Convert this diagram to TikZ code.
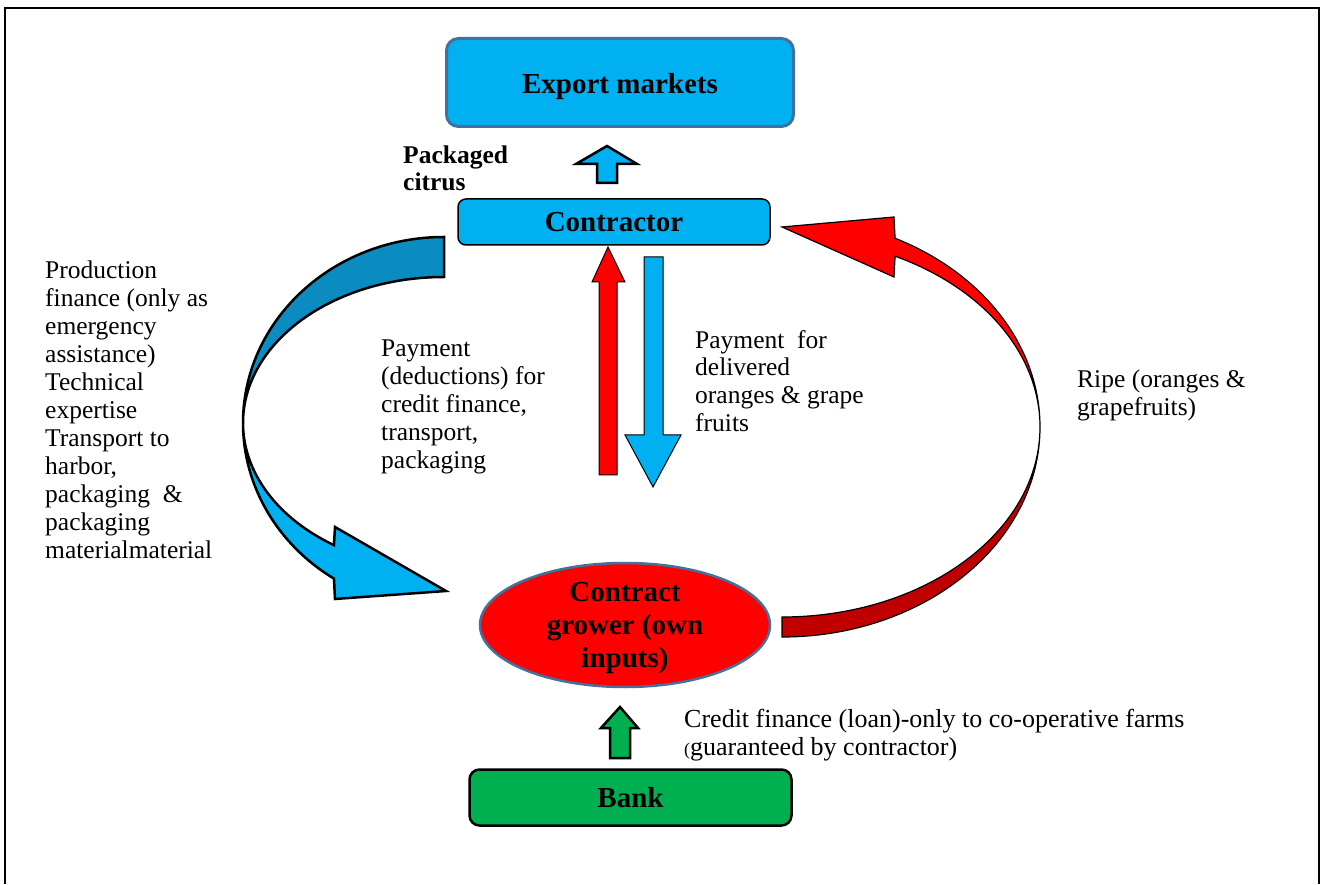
\documentclass[tikz,border=0pt]{standalone}
\usepackage{fontspec}
\setmainfont{Liberation Serif}
\usetikzlibrary{calc,shapes.geometric}
\definecolor{cyanfill}{HTML}{00B0F0}
\definecolor{darkcyan}{HTML}{0A8CC0}
\definecolor{redfill}{HTML}{FF0000}
\definecolor{darkredfill}{HTML}{C00000}
\definecolor{greenfill}{HTML}{00B050}
\definecolor{edgeblue}{HTML}{41719C}
\tikzset{
  boxnode/.style={rounded corners=12pt, inner sep=0pt, font=\fontsize{29}{33}\selectfont\bfseries, align=center},
  txt/.style={anchor=north west, inner sep=0pt, align=left, font=\fontsize{25.5}{28}\selectfont},
  blockarrow/.style={draw=black, line width=2.5pt, line join=miter},
  thinarrow/.style={draw=black, line width=1pt, line join=miter},
}
\begin{document}
\begin{tikzpicture}[x=1pt,y=1pt]
\useasboundingbox (0,0) rectangle (1324,884);
% frame
\draw[line width=2pt] (4.5,0) -- (4.5,876) -- (1319,876) -- (1319,0);

% boxes
\node[boxnode, fill=cyanfill, draw=edgeblue, line width=3pt, minimum width=347pt, minimum height=88pt, text height=28pt, text depth=6pt] (export) at (620,801.5) {Export markets};
\node[boxnode, fill=cyanfill, draw=black, line width=1.5pt, rounded corners=8pt, minimum width=312pt, minimum height=46pt] (contractor) at (614,662) {Contractor};
\node[ellipse, fill=redfill, draw=edgeblue, line width=2.5pt, inner sep=0pt, minimum width=290pt, minimum height=124pt,
  label={[align=center, font=\fontsize{29}{33}\selectfont\bfseries, yshift=-3pt]center:Contract\\grower (own\\inputs)}] (grower) at (625,259) {};
\node[boxnode, fill=greenfill, draw=black, line width=2.5pt, rounded corners=10pt, minimum width=322pt, minimum height=56pt] (bank) at (630.5,86.5) {Bank};

% small up arrow (packaged citrus)
\draw[blockarrow, fill=cyanfill] (597,701) -- (597,720) -- (576,720) -- (607,738) -- (637,720) -- (617,720) -- (617,701) -- cycle;
% red up arrow
\draw[thinarrow, fill=redfill] (599,409) -- (599,602) -- (592,602) -- (608,637) -- (625,602) -- (617,602) -- (617,409) -- cycle;
% blue down arrow
\draw[thinarrow, fill=cyanfill] (644,627) -- (644,449) -- (625,449) -- (653,397) -- (681,449) -- (663,449) -- (663,627) -- cycle;
% green up arrow
\draw[blockarrow, fill=greenfill] (610,126) -- (610,156) -- (601,156) -- (620,177) -- (638,156) -- (630,156) -- (630,126) -- cycle;

% left curved arrow (blue)
\coordinate (lc) at (444,461);
\draw[blockarrow, fill=cyanfill] (243,461) arc[start angle=180, end angle=236.8, x radius=201pt, y radius=186pt]
  -- (335,285) -- (446,293) -- (335,357) -- ($(lc)+(236.8:201pt and 146pt)$)
  arc[start angle=236.8, end angle=180, x radius=201pt, y radius=146pt] -- cycle;
\draw[blockarrow, fill=darkcyan] (444,647) arc[start angle=90, end angle=180, x radius=201pt, y radius=186pt]
  arc[start angle=180, end angle=90, x radius=201pt, y radius=146pt] -- cycle;

% right curved arrow (red)
\coordinate (rc) at (782,457);
\draw[thinarrow, line width=1.2pt, fill=darkredfill] (1040,457) arc[start angle=0, end angle=-90, x radius=258pt, y radius=210pt]
  -- (782,267) arc[start angle=-90, end angle=0, x radius=258pt, y radius=190pt] -- cycle;
\draw[thinarrow, line width=1.2pt, fill=redfill] ($(rc)+(64:258pt and 190pt)$) -- (894,607) -- (782,657) -- (894,667) -- ($(rc)+(64:258pt and 210pt)$)
  arc[start angle=64, end angle=0, x radius=258pt, y radius=210pt]
  arc[start angle=0, end angle=64, x radius=258pt, y radius=190pt] -- cycle;

% texts
\node[txt, font=\fontsize{25.5}{27}\selectfont\bfseries] (pack) at (403,738) {Packaged\\citrus};
\node[txt] (lefttxt) at (45,623) {Production\\finance (only as\\emergency\\assistance)\\Technical\\expertise\\Transport to\\harbor,\\packaging\ \ \&\\packaging\\materialmaterial};
\node[txt] (paydeduct) at (381,544) {Payment\\(deductions) for\\credit finance,\\transport,\\packaging};
\node[txt, font=\fontsize{25.5}{27.7}\selectfont] (paydeliv) at (695,554) {Payment\ \ for\\delivered\\oranges \& grape\\fruits};
\node[txt] (ripe) at (1077,514) {Ripe (oranges \&\\grapefruits)};
\node[txt, font=\fontsize{26}{28}\selectfont] (credit) at (684,175) {Credit finance (loan)-only to co-operative farms\\{\fontsize{18}{18}\selectfont(}guaranteed by contractor)};
\end{tikzpicture}
\end{document}
